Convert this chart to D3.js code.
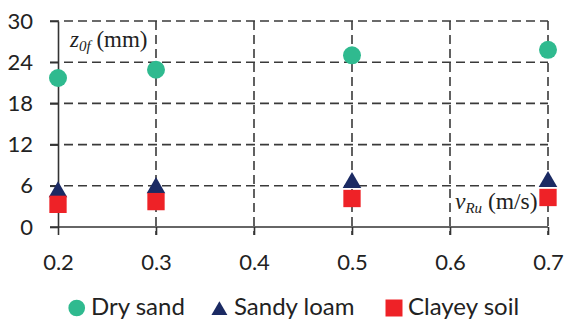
<!DOCTYPE html>
<html lang="en">
<head>
  <meta charset="UTF-8">
  <title>z0f vs vRu</title>
  <script src="https://d3js.org/d3.v7.min.js"></script>
  <style>
    body { margin: 0; background: #fff; }
    svg text { font-family: Lato, "Open Sans", sans-serif; fill: #222; }
    .grid line { stroke: #3a3a3a; stroke-width: 1.6; stroke-dasharray: 9 5; }
    .axis line, .axis path { stroke: #333; stroke-width: 1.6; }
    svg text.lbl, svg text.lbl tspan { font-family: "Liberation Serif", "DejaVu Serif", serif; }
  </style>
</head>
<body>
  <svg width="564" height="322"></svg>
  <script>
    // data
    const velocities = [0.2, 0.3, 0.5, 0.7];
    const drySand = [21.7, 22.9, 25.0, 25.8];
    const sandyLoam = [5.5, 6.1, 6.85, 7.0];
    const clayeySoil = [3.3, 3.7, 4.15, 4.3];
    const xTicks = [0.2, 0.3, 0.4, 0.5, 0.6, 0.7];
    const yTicks = [0, 6, 12, 18, 24, 30];

    const series = [
      {name: "Dry sand", values: drySand, color: "#2fba8f", shape: "circle"},
      {name: "Sandy loam", values: sandyLoam, color: "#1b2a63", shape: "triangle"},
      {name: "Clayey soil", values: clayeySoil, color: "#ee2227", shape: "square"}
    ];

    const svg = d3.select("svg");
    const x = d3.scaleLinear().domain([0.2, 0.7]).range([58, 548]);
    const y = d3.scaleLinear().domain([0, 30]).range([227, 21]);

    // dashed grid
    const grid = svg.append("g").attr("class", "grid");
    grid.selectAll(".h").data(yTicks.filter(d => d > 0)).join("line")
      .attr("x1", x(0.2) - 8).attr("x2", x(0.7))
      .attr("y1", d => y(d)).attr("y2", d => y(d));
    grid.selectAll(".v").data(xTicks.filter(d => d > 0.2)).join("line")
      .attr("x1", d => x(d)).attr("x2", d => x(d))
      .attr("y1", y(30)).attr("y2", y(0) + 8);

    // solid axes
    svg.append("g").attr("class", "axis")
      .attr("transform", `translate(0,${y(0)})`)
      .call(d3.axisBottom(x).tickValues(xTicks).tickSize(8).tickSizeOuter(0).tickFormat(d3.format(".1f")))
      .call(g => g.select(".domain").attr("d", `M${x(0.2) - 8},0H${x(0.7)}`))
      .call(g => g.selectAll("text").attr("font-size", 22).attr("y", 43).attr("dy", 0));
    svg.append("g").attr("class", "axis")
      .attr("transform", `translate(${x(0.2)},0)`)
      .call(d3.axisLeft(y).tickValues(yTicks).tickSize(8).tickSizeOuter(0))
      .call(g => g.selectAll("text").attr("font-size", 22).attr("x", -25));
    svg.selectAll(".axis text").style("fill", "#222").attr("font-family", "Lato, sans-serif");

    // axis titles inside plot
    const t1 = svg.append("text").attr("class", "lbl").attr("x", 70).attr("y", 47).attr("font-size", 23);
    t1.append("tspan").attr("font-style", "italic").text("z");
    t1.append("tspan").attr("font-style", "italic").attr("font-size", 15).attr("dy", 4).text("0f");
    t1.append("tspan").attr("dy", -4).text(" (mm)");

    const t2 = svg.append("text").attr("class", "lbl").attr("x", 455).attr("y", 209).attr("font-size", 23.5);
    t2.append("tspan").attr("font-style", "italic").text("v");
    t2.append("tspan").attr("font-style", "italic").attr("font-size", 15).attr("dy", 4).text("Ru");
    t2.append("tspan").attr("dy", -4).text(" (m/s)");

    const shapes = {circle: d3.symbolCircle, triangle: d3.symbolTriangle, square: d3.symbolSquare};
    const plotSize = {circle: 254, triangle: 150, square: 300};
    const legSize = {circle: 219, triangle: 110, square: 289};

    // markers (triangle shifted so its box is centred on the value)
    series.forEach(s => {
      svg.append("g").selectAll("path").data(s.values).join("path")
        .attr("d", d3.symbol().type(shapes[s.shape]).size(plotSize[s.shape])())
        .attr("transform", (d, i) => `translate(${x(velocities[i])},${y(d) + (s.shape === "triangle" ? 2.7 : 0)})`)
        .attr("fill", s.color);
    });

    // legend
    const legendPos = [76.7, 219.4, 394];
    const legendText = [91, 234, 408];
    const leg = svg.append("g");
    series.forEach((s, i) => {
      leg.append("path")
        .attr("d", d3.symbol().type(shapes[s.shape]).size(legSize[s.shape])())
        .attr("transform", `translate(${legendPos[i]},${s.shape === "triangle" ? 310.5 : 308})`)
        .attr("fill", s.color);
      leg.append("text")
        .attr("x", legendText[i]).attr("y", 315)
        .attr("font-size", 24).text(s.name);
    });
  </script>
</body>
</html>
